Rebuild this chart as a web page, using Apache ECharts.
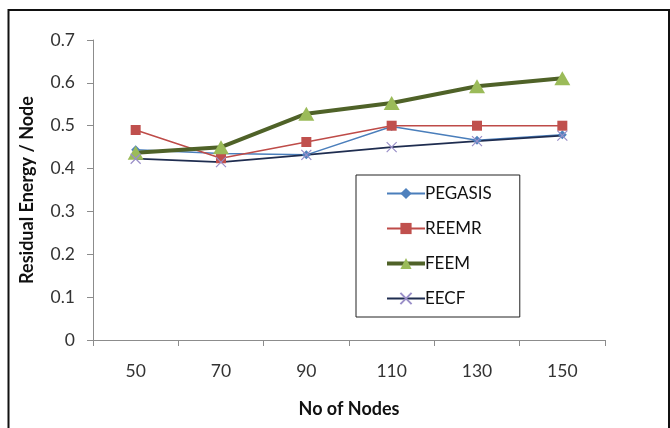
<!DOCTYPE html>
<html>
<head>
<meta charset="utf-8">
<script src="https://cdn.jsdelivr.net/npm/echarts@6/dist/echarts.min.js"></script>
<style>html,body{margin:0;padding:0;background:#fff;}#c{width:670px;height:428px;}</style>
</head>
<body>
<div id="c"></div>
<script>
const categories = ['50', '70', '90', '110', '130', '150'];
const pegasis = [0.444, 0.435, 0.432, 0.498, 0.466, 0.479];
const reemr = [0.490, 0.424, 0.462, 0.500, 0.500, 0.500];
const feem = [0.437, 0.450, 0.528, 0.553, 0.592, 0.611];
const eecf = [0.423, 0.415, 0.432, 0.450, 0.464, 0.477];
const yTicks = [0, 0.1, 0.2, 0.3, 0.4, 0.5, 0.6, 0.7];

const FONT = 'Lato';
const chart = echarts.init(document.getElementById('c'));
chart.setOption({
  animation: false,
  textStyle: { fontFamily: FONT },
  grid: { left: 93, right: 65, top: 40, bottom: 88, containLabel: false },
  graphic: [{
    type: 'rect', silent: true,
    shape: { x: 8.5, y: 10, width: 660.5, height: 440 },
    style: { fill: 'none', stroke: '#111', lineWidth: 2 }
  }],
  legend: {
    orient: 'vertical',
    left: 356, top: 175,
    padding: [10, 28, 10, 29],
    itemGap: 18,
    itemWidth: 38,
    itemHeight: 14,
    borderColor: '#222',
    borderWidth: 1,
    borderRadius: 0,
    backgroundColor: '#fff',
    textStyle: { fontFamily: FONT, fontSize: 17, color: '#111', padding: [0, 0, 0, -5] },
    data: [
      { name: 'PEGASIS' },
      { name: 'REEMR' },
      { name: 'FEEM', lineStyle: { width: 4 } },
      { name: 'EECF' }
    ]
  },
  xAxis: {
    type: 'category',
    data: categories,
    boundaryGap: true,
    name: 'No of Nodes',
    nameLocation: 'middle',
    nameGap: 60,
    nameTextStyle: { fontFamily: FONT, fontSize: 18, fontWeight: 'bold', color: '#111' },
    axisLine: { lineStyle: { color: '#8c8c8c', width: 1 } },
    axisTick: { show: true, alignWithLabel: false, length: 6, lineStyle: { color: '#8c8c8c' } },
    axisLabel: { fontFamily: FONT, fontSize: 17.5, color: '#333', margin: 22 },
    splitLine: { show: false }
  },
  yAxis: {
    type: 'value',
    min: 0, max: 0.7, interval: 0.1,
    name: 'Residual Energy / Node',
    nameLocation: 'middle',
    nameGap: 57,
    nameRotate: 90,
    nameTextStyle: { fontFamily: FONT, fontSize: 18, fontWeight: 'bold', color: '#111' },
    axisLine: { show: true, lineStyle: { color: '#8c8c8c', width: 1 } },
    axisTick: { show: true, length: 6, lineStyle: { color: '#8c8c8c' } },
    axisLabel: {
      fontFamily: FONT, fontSize: 17.5, color: '#333', margin: 18,
      formatter: v => { const t = yTicks.find(x => Math.abs(x - v) < 1e-6); return t === 0 ? '0' : String(t); }
    },
    splitLine: { show: false }
  },
  series: [
    {
      name: 'PEGASIS', type: 'line', data: pegasis,
      symbol: 'diamond', symbolSize: 9,
      lineStyle: { color: '#4A7EBB', width: 1.5 },
      itemStyle: { color: '#4F81BD' }
    },
    {
      name: 'REEMR', type: 'line', data: reemr,
      symbol: 'rect', symbolSize: 10,
      lineStyle: { color: '#BE4B48', width: 1.5 },
      itemStyle: { color: '#C0504D' }
    },
    {
      name: 'FEEM', type: 'line', data: feem,
      symbol: 'triangle', symbolSize: [16, 14],
      lineStyle: { color: '#4F6228', width: 4 },
      itemStyle: { color: '#9BBB59' }
    },
    {
      name: 'EECF', type: 'line', data: eecf,
      symbol: 'path://M0,0L10,10M10,0L0,10', symbolSize: 10,
      lineStyle: { color: '#1F2D50', width: 1.8 },
      itemStyle: { color: 'none', borderColor: '#9A8FC8', borderWidth: 1.2 }
    }
  ]
});
</script>
</body>
</html>
